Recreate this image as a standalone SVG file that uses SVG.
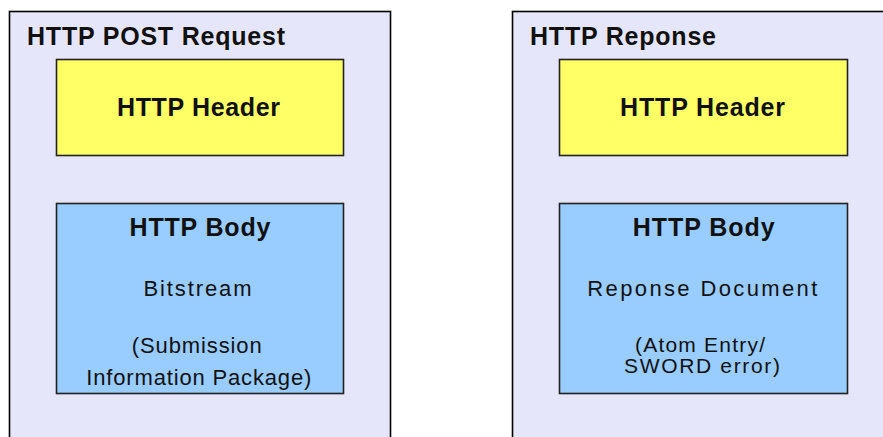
<svg xmlns="http://www.w3.org/2000/svg" width="883" height="437" viewBox="0 0 883 437">
  <style>
    .outer { fill: #E6E6FA; stroke: #000; stroke-width: 1.6; }
    .header { fill: #FFFF66; stroke: #222; stroke-width: 1.6; }
    .body { fill: #99CCFF; stroke: #222; stroke-width: 1.6; }
    text { font-family: "Liberation Sans", Arial, sans-serif; fill: #111; }
    .title { font-size: 25px; font-weight: bold; }
    .bold { font-size: 25px; font-weight: bold; text-anchor: middle; }
    .norm { font-size: 22px; text-anchor: middle; }
    .small { font-size: 21px; text-anchor: middle; }
  </style>
  <rect width="883" height="437" fill="#FFFFFF"/>
  <g id="request">
    <rect class="outer" x="9.5" y="11.5" width="381" height="440"/>
    <text class="title" x="27" y="45" textLength="258" lengthAdjust="spacing">HTTP POST Request</text>
  </g>
  <g id="request-header">
    <rect class="header" x="56.5" y="59.5" width="287" height="96"/>
    <text class="bold" x="198.5" y="116" textLength="163" lengthAdjust="spacing">HTTP Header</text>
  </g>
  <g id="request-body">
    <rect class="body" x="56.5" y="203.5" width="287" height="190"/>
    <text class="bold" x="200" y="236" textLength="141" lengthAdjust="spacing">HTTP Body</text>
    <text class="norm" x="197.5" y="296" textLength="108" lengthAdjust="spacing">Bitstream</text>
    <text class="norm" x="196.7" y="353" textLength="130" lengthAdjust="spacing">(Submission</text>
    <text class="norm" x="198.8" y="385" textLength="225" lengthAdjust="spacing">Information Package)</text>
  </g>
  <g id="response">
    <rect class="outer" x="512.5" y="11.5" width="400" height="440"/>
    <text class="title" x="530" y="45" textLength="186" lengthAdjust="spacing">HTTP Reponse</text>
  </g>
  <g id="response-header">
    <rect class="header" x="559.5" y="59.5" width="288" height="96"/>
    <text class="bold" x="702.5" y="116" textLength="165" lengthAdjust="spacing">HTTP Header</text>
  </g>
  <g id="response-body">
    <rect class="body" x="559.5" y="203.5" width="288" height="190"/>
    <text class="bold" x="703.7" y="236" textLength="142" lengthAdjust="spacing">HTTP Body</text>
    <text class="norm" x="702.3" y="296" textLength="230" lengthAdjust="spacing">Reponse Document</text>
    <text class="small"><tspan x="700" y="352" textLength="130" lengthAdjust="spacing">(Atom Entry/</tspan><tspan x="702" y="373" textLength="156" lengthAdjust="spacing">SWORD error)</tspan></text>
  </g>
  <g id="connectors"></g>
</svg>
